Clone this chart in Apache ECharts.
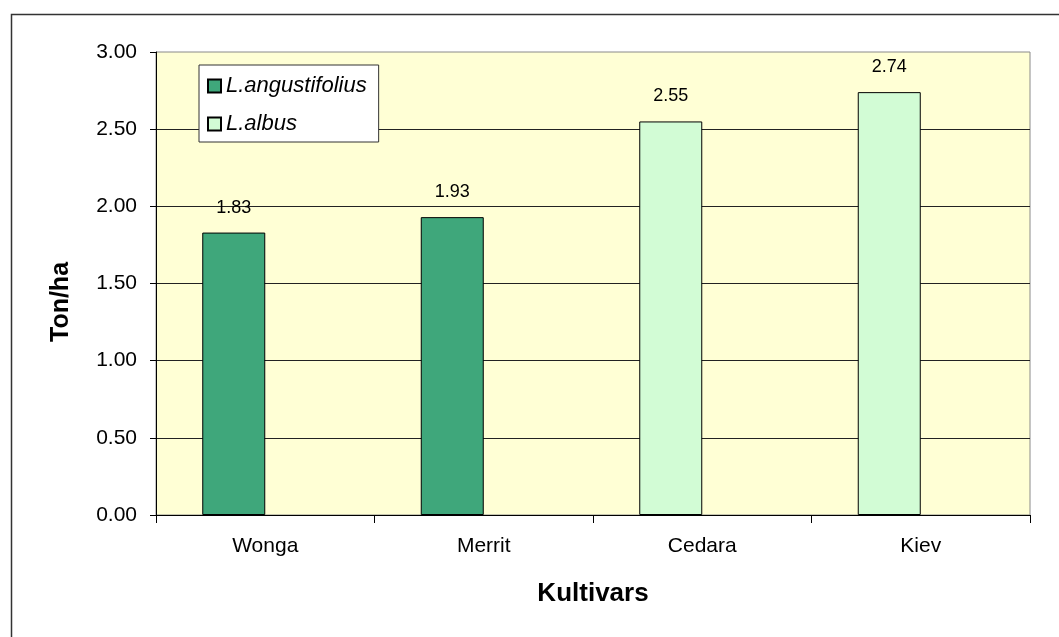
<!DOCTYPE html>
<html>
<head>
<meta charset="utf-8">
<script src="https://cdn.jsdelivr.net/npm/echarts@6/dist/echarts.min.js"></script>
<style>html,body{margin:0;padding:0;background:#fff;overflow:hidden}#c{width:1059px;height:637px}</style>
</head>
<body>
<div id="c"></div>
<script>
var categories = ['Wonga', 'Merrit', 'Cedara', 'Kiev'];
var angustifolius = [1.83, 1.93, null, null];
var albus = [null, null, 2.55, 2.74];
var seriesNames = ['L.angustifolius', 'L.albus'];
var yTicks = [0, 0.5, 1, 1.5, 2, 2.5, 3];

var FONT = "'Liberation Sans', Arial, sans-serif";
var chart = echarts.init(document.getElementById('c'), null, {renderer: 'canvas'});
var labelCfg = {
  show: true, position: 'top', distance: 16,
  fontFamily: FONT, fontSize: 18, color: '#000',
  formatter: function (p) { return p.value == null ? '' : p.value.toFixed(2); }
};
chart.setOption({
  animation: false,
  backgroundColor: '#fff',
  graphic: [{
    type: 'rect', silent: true, z: -10,
    shape: {x: 11.5, y: 14.5, width: 1100, height: 700},
    style: {fill: 'none', stroke: '#333', lineWidth: 1.5}
  }],
  grid: {
    left: 156, top: 52, right: 29, bottom: 122,
    show: true, backgroundColor: '#ffffd5', borderColor: '#8a8a8a', borderWidth: 1
  },
  legend: {
    data: seriesNames,
    orient: 'vertical', left: 199, top: 65,
    padding: [10, 12, 7, 8], itemGap: 16,
    itemWidth: 13, itemHeight: 13, icon: 'rect',
    backgroundColor: '#fff', borderColor: '#333', borderWidth: 1,
    textStyle: {fontFamily: FONT, fontSize: 22, fontStyle: 'italic', color: '#000', lineHeight: 22}
  },
  xAxis: {
    type: 'category', data: categories, boundaryGap: true,
    name: 'Kultivars', nameLocation: 'middle', nameGap: 66,
    nameTextStyle: {fontFamily: FONT, fontSize: 26, fontWeight: 'bold', color: '#000'},
    axisLine: {lineStyle: {color: '#000', width: 1}},
    axisTick: {show: true, length: 8, alignWithLabel: false, lineStyle: {color: '#000'}},
    axisLabel: {fontFamily: FONT, fontSize: 21, color: '#000', margin: 21},
    splitLine: {show: false}
  },
  yAxis: {
    type: 'value', min: 0, max: 3, interval: 0.5,
    name: 'Ton/ha', nameLocation: 'middle', nameGap: 82, nameRotate: 90,
    nameTextStyle: {fontFamily: FONT, fontSize: 25, fontWeight: 'bold', color: '#000', padding: [0, 37, 0, 0]},
    axisLine: {show: true, lineStyle: {color: '#000', width: 1}},
    axisTick: {show: true, length: 6, lineStyle: {color: '#000'}},
    axisLabel: {fontFamily: FONT, fontSize: 21, color: '#000', margin: 19,
      formatter: function (v) { return v.toFixed(2); }},
    splitLine: {show: true, showMinLine: false, showMaxLine: false, lineStyle: {color: '#222', width: 1}}
  },
  series: [
    {name: seriesNames[0], type: 'bar', stack: 's', data: angustifolius, barWidth: 63, barGap: '0%',
     itemStyle: {color: '#3fa77b', borderColor: '#000', borderWidth: 1}, label: labelCfg},
    {name: seriesNames[1], type: 'bar', stack: 's', data: albus, barWidth: 63, barGap: '0%',
     itemStyle: {color: '#d2fcd5', borderColor: '#000', borderWidth: 1}, label: labelCfg},
    {name: 'spacer', type: 'bar', stack: 'spacer', data: [], barWidth: 63, barGap: '0%'}
  ]
});
</script>
</body>
</html>
